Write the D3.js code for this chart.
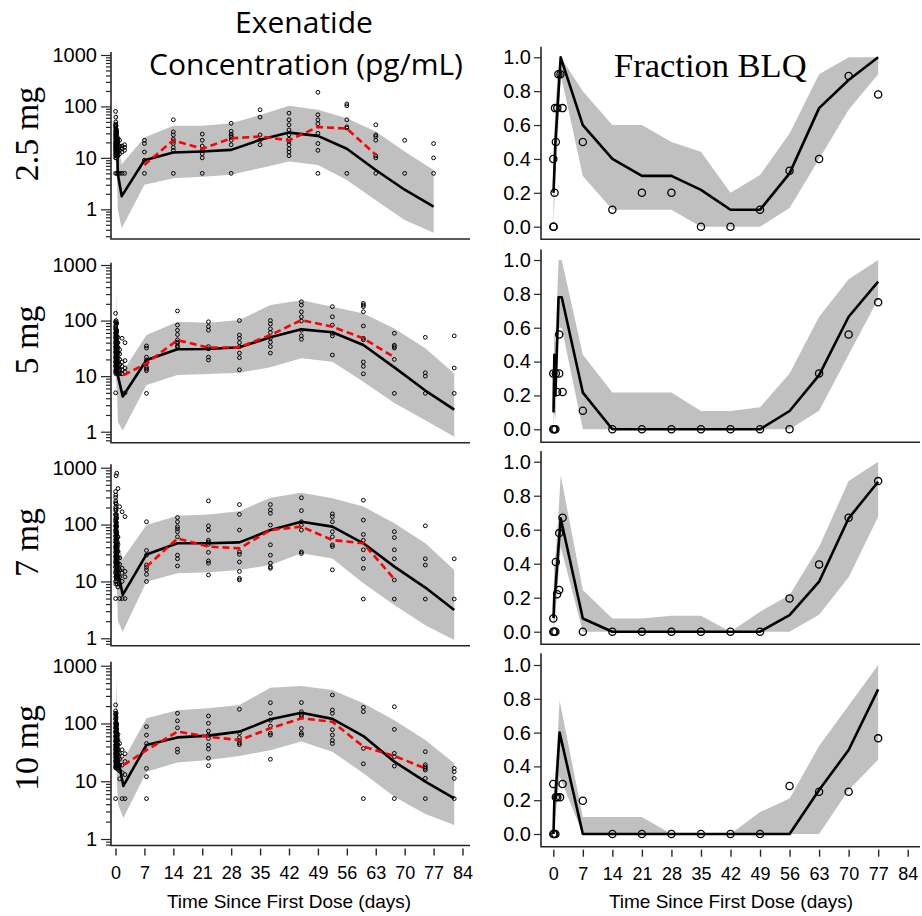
<!DOCTYPE html>
<html>
<head>
<meta charset="utf-8">
<script src="https://cdn.jsdelivr.net/npm/d3@7"></script>
<style>
  body { margin: 0; background: #fff; }
  text { font-family: "Liberation Sans", Arial, sans-serif; }
</style>
</head>
<body>
<div id="vis"></div>
<script>
// ############
// data
// ############
const DOSES = ["2.5 mg", "5 mg", "7 mg", "10 mg"];
const X_TICKS = [0, 7, 14, 21, 28, 35, 42, 49, 56, 63, 70, 77, 84];
const CONC_TICKS = [1, 10, 100, 1000];
const BLQ_TICKS = [0, 0.2, 0.4, 0.6, 0.8, 1.0];

// sampling days (2.5 mg cohort was weekly, others ~7.5 d apart)
const DAYS_A = [7, 14, 21, 28, 35, 42, 49, 56, 63, 70, 77];
const DAYS_B = [7.5, 15, 22.5, 30, 37.5, 45, 52.5, 60, 67.5, 75, 82];

// simulated median / 90% PI for concentration
const CONC_PRED_TIME = [
  [0.1, 0.25, 0.4, 0.55, 1.5].concat(DAYS_A),
  [0.1, 0.25, 0.4, 0.6, 1.75].concat(DAYS_B),
  [0.1, 0.25, 0.4, 0.6, 1.75].concat(DAYS_B),
  [0.1, 0.25, 0.4, 0.6, 1.9].concat(DAYS_B)
];
const CONC_PRED_MED = [
  [10, 40, 22, 5, 1.8, 9, 12.7, 13.3, 14.3, 22.4, 31, 26.8, 15, 5.8, 2.4, 1.13],
  [12, 60, 35, 10, 4.3, 19.5, 30.4, 30.7, 33, 50, 69.5, 61.5, 36.4, 14.4, 5.5, 2.5],
  [20, 120, 50, 15, 5.8, 29.8, 46.8, 46.8, 48.7, 80, 112, 92, 46.8, 18.2, 7.8, 3.15],
  [25, 150, 70, 25, 8.3, 42.4, 57.4, 61.5, 72.3, 118, 153, 120, 60.6, 21.8, 9.85, 5.05]
];
const CONC_PRED_HI = [
  [30, 150, 40, 20, 7.5, 25, 42, 42, 47, 68, 103, 86, 59, 32.6, 13.3, 5.8],
  [40, 330, 80, 25, 12, 55, 95, 91, 102, 190, 233, 178, 134, 72, 31.6, 11.2],
  [80, 700, 120, 50, 25, 98, 143, 151, 172, 296, 362, 289, 207, 105, 46.8, 15.9],
  [100, 650, 150, 60, 23, 123, 170, 183, 208, 417, 444, 380, 223, 114, 51.5, 20.4]
];
const CONC_PRED_LO = [
  [3, 8, 3, 1, 0.43, 3.0, 4.0, 4.3, 4.7, 6.3, 8.5, 7.3, 3.7, 1.5, 0.62, 0.35],
  [3, 10, 4, 1.5, 1.05, 6.9, 10.5, 10.9, 11.5, 14.4, 20.9, 18.2, 7.9, 3.3, 1.6, 0.81],
  [4, 20, 5, 2, 1.3, 9.9, 13.9, 14.5, 15.9, 19.4, 31.2, 25.4, 9.3, 3.85, 1.7, 0.93],
  [5, 30, 8, 4, 2.3, 14.6, 21, 23.3, 27.4, 34.5, 48.5, 32.5, 13.7, 5.4, 2.7, 1.75]
];

// observed median (red dashed)
const CONC_OBS_MED_TIME = [
  [7, 14, 21, 28, 35, 42, 49, 56, 63],
  [2, 7.5, 15, 22.5, 30, 37.5, 45, 52.5, 60, 67.5],
  [7.5, 15, 22.5, 30, 37.5, 45, 52.5, 60, 67.5],
  [2, 7.5, 15, 22.5, 30, 37.5, 45, 52.5, 60, 67.5, 75]
];
const CONC_OBS_MED = [
  [7.3, 22, 15, 24, 26, 22, 40, 37, 11.5],
  [10.4, 17, 44.6, 32.5, 33, 55, 102, 77.6, 47.8, 21.8],
  [18.2, 57, 40.9, 38.2, 80, 92, 53.4, 46.8, 11],
  [19.1, 34.5, 72.3, 59, 51.5, 82.5, 123, 107, 39.7, 27.4, 16.7]
];

// observed concentrations, first two days [day, values]
const CONC_EARLY = [
  [[0.02, [5, 10, 12, 14, 16, 18, 20, 24, 28, 33, 40, 45, 80]],
   [0.08, [11, 12.5, 14, 15.5, 17, 19, 21, 23, 26, 29, 32, 37, 43, 50, 62]],
   [0.15, [11, 13, 15, 17, 19, 22, 26, 30, 36, 42]],
   [0.22, [10, 12, 13.5, 15, 16.5, 18, 20, 22, 25, 28, 31, 35]],
   [0.3, [5, 12, 14, 16, 19, 23, 27, 32]],
   [0.45, [11, 12.5, 14, 15.5, 17, 19, 21, 24]],
   [0.6, [5, 11, 13, 15, 18, 21, 24]],
   [1.0, [5, 12, 14, 17, 22]],
   [1.6, [5, 13, 15, 17]],
   [2.2, [5, 14, 16, 18]]],
  [[0.02, [5, 12, 15, 18, 22, 27, 33, 40, 50, 60, 75, 95, 135]],
   [0.08, [11, 13, 15, 17, 19, 21, 24, 27, 30, 34, 38, 43, 48, 54, 61, 70, 80, 92]],
   [0.15, [13, 16, 20, 25, 30, 36, 45, 55, 68, 85, 100]],
   [0.22, [12, 14, 16, 18, 20, 23, 26, 29, 33, 37, 42, 47, 53, 60, 68]],
   [0.3, [12, 15, 18, 22, 28, 34, 42, 52, 65, 90]],
   [0.45, [11, 13, 15, 17, 19, 22, 25, 29, 34, 40]],
   [0.6, [11, 14, 17, 21, 26, 32, 40, 50]],
   [1.0, [11, 13, 16, 20, 25, 30]],
   [1.6, [11, 13, 15, 18, 48]],
   [2.3, [5, 12, 14, 19, 40]]],
  [[0.02, [5, 10, 14, 18, 22, 27, 33, 40, 50, 62, 78, 95, 120, 150, 190, 240, 300, 380]],
   [0.08, [9, 12, 15, 18, 21, 24, 28, 32, 37, 42, 48, 55, 63, 72, 82, 95, 110, 128, 150, 175, 205, 260, 330]],
   [0.15, [12, 16, 20, 25, 30, 37, 45, 55, 70, 88, 110, 140, 180, 230, 720]],
   [0.22, [11, 13, 16, 19, 22, 26, 30, 35, 41, 48, 56, 66, 78, 92, 108, 128, 150]],
   [0.3, [10, 14, 18, 22, 28, 35, 44, 56, 72, 95, 130, 800]],
   [0.45, [9, 12, 15, 18, 22, 27, 33, 40, 50, 62]],
   [0.6, [8, 12, 16, 20, 26, 34, 45, 60, 430]],
   [1.0, [5, 9, 12, 16, 20, 26, 206]],
   [1.6, [5, 10, 14, 17, 168]],
   [2.3, [5, 12, 15, 138]]],
  [[0.02, [5, 18, 22, 26, 30, 36, 42, 50, 60, 72, 85, 100, 120, 145, 165, 210]],
   [0.08, [17, 19, 21, 23, 26, 29, 32, 35, 39, 43, 48, 53, 59, 66, 74, 83, 93, 105, 118, 133, 150]],
   [0.15, [17, 20, 24, 28, 33, 40, 48, 58, 70, 84, 100, 125, 150]],
   [0.22, [18, 20, 22, 25, 28, 31, 35, 39, 44, 50, 56, 63, 71, 80, 90]],
   [0.3, [18, 21, 25, 30, 36, 44, 54, 66, 80, 98]],
   [0.45, [17, 19, 22, 25, 29, 33, 38, 44, 51, 59]],
   [0.6, [16, 20, 24, 29, 35, 43, 52, 65]],
   [1.0, [11, 15, 19, 24, 30, 45]],
   [1.6, [5, 14, 19, 27, 35]],
   [2.3, [5, 13, 22, 30]]]
];

// observed concentrations at the weekly visits (aligned with DAYS_A / DAYS_B)
const CONC_OBS = [
  [[22, 19, 13, 9, 5], [55, 32, 28, 23, 21, 19, 16, 14, 5], [29, 22, 17, 14, 12, 10, 5],
   [47, 33, 29, 27, 25, 22, 18, 5], [86, 62, 28, 22, 18], [74, 55, 44, 35, 28, 23, 21, 18, 15, 13, 11],
   [188, 69, 55, 46, 30, 19, 14, 5], [112, 103, 55, 40, 38, 5], [44, 28, 26, 22, 11, 10, 5],
   [22, 5], [19, 10, 5]],
  [[35, 32, 22, 19.5, 17, 14.4, 13.4, 12.5, 4.9], [149, 83, 67, 56, 45, 41, 39, 35, 33],
   [95, 78, 67, 34, 31, 22, 19.5], [100, 55, 48, 40, 34, 26, 21.5, 13],
   [100, 87, 71, 61, 48, 41, 34, 26], [218, 190, 144, 117, 98, 67, 53, 46],
   [178, 117, 83, 59, 53, 24], [204, 190, 178, 144, 80, 48, 45, 18, 15, 11],
   [59, 36, 34, 32, 20, 4.9], [50, 11.5, 10, 4.9], [53, 14, 4.9]],
  [[112, 35, 29, 19.5, 17.7, 16, 13.3, 10], [133, 112, 92, 84, 75, 61, 29, 25, 18.7],
   [261, 95, 80, 53, 49, 45, 32.5, 23, 21, 13], [225, 151, 80, 33, 30, 22, 15, 11.3, 10.6],
   [225, 181, 158, 98, 44, 29, 21, 18, 17], [296, 176, 112, 98, 80, 33, 31],
   [154, 138, 112, 75, 61, 44, 41, 16], [268, 120, 67, 53, 36, 25, 17, 4.9],
   [75, 59, 36, 25, 10.6, 4.9], [95, 25, 19.4, 4.9], [25, 4.9]],
  [[88, 63, 45, 16.7, 12, 5], [150, 111, 84, 36, 32], [135, 101, 74, 63, 55, 42, 36, 25, 18.6],
   [176, 68, 57, 51, 46, 43], [229, 150, 114, 90, 68, 63, 24], [230, 160, 140, 131, 82, 68, 63],
   [311, 171, 150, 78, 63, 51, 45], [190, 160, 37, 20, 5], [195, 79, 30.5, 26.6, 18.3, 5],
   [32.5, 19.3, 17.8, 16.7, 15.6, 11.2, 5], [16.7, 14.6, 11.2, 5]]
];
const CONC_OBS_DAYS = [DAYS_A, DAYS_B, DAYS_B, DAYS_B];

// fraction BLQ: simulated median / PI
const BLQ_PRED_TIME = [
  [0.05, 0.5, 1.0, 1.75].concat(DAYS_A),
  [0.05, 0.25, 0.5, 1.25, 2.0].concat(DAYS_A),
  [0.05, 0.25, 0.5, 1.0, 1.75].concat(DAYS_A),
  [0.05, 0.25, 0.5, 1.5].concat(DAYS_A)
];
const BLQ_PRED_MED = [
  [0.2, 0.5, 0.7, 1.0, 0.6, 0.4, 0.3, 0.3, 0.217, 0.1, 0.1, 0.315, 0.7, 0.866, 1.0],
  [0.1, 0.44, 0.2, 0.78, 0.78, 0.217, 0, 0, 0, 0, 0, 0, 0.108, 0.32, 0.665, 0.872],
  [0.08, 0.22, 0.25, 0.42, 0.667, 0.078, 0, 0, 0, 0, 0, 0, 0.098, 0.294, 0.667, 0.882],
  [0, 0.2, 0.22, 0.6, 0, 0, 0, 0, 0, 0, 0, 0, 0.26, 0.497, 0.856]
];
const BLQ_PRED_HI = [
  [0.4, 0.7, 0.9, 1.0, 0.8, 0.6, 0.6, 0.5, 0.443, 0.2, 0.305, 0.55, 0.9, 1.0, 1.0],
  [0.33, 0.6, 0.5, 1.0, 1.0, 0.44, 0.217, 0.217, 0.217, 0.108, 0.108, 0.13, 0.33, 0.665, 0.886, 1.0],
  [0.2, 0.4, 0.45, 0.6, 0.92, 0.245, 0.078, 0.078, 0.094, 0.094, 0, 0.118, 0.216, 0.5, 0.886, 1.0],
  [0.1, 0.3, 0.35, 0.79, 0.1, 0.1, 0.1, 0, 0, 0, 0.13, 0.21, 0.52, 0.76, 1.0]
];
const BLQ_PRED_LO = [
  [0, 0.3, 0.5, 0.9, 0.3, 0.1, 0.1, 0.1, 0, 0, 0, 0.11, 0.4, 0.69, 0.9],
  [0, 0.1, 0.05, 0.6, 0.6, 0, 0, 0, 0, 0, 0, 0, 0, 0.11, 0.44, 0.77],
  [0, 0.05, 0.1, 0.25, 0.5, 0, 0, 0, 0, 0, 0, 0, 0, 0.1, 0.32, 0.676],
  [0, 0.05, 0.1, 0.34, 0, 0, 0, 0, 0, 0, 0, 0, 0, 0.26, 0.44]
];

// observed fraction BLQ [day, fraction]
const BLQ_OBS = [
  [[0, 0], [0.1, 0], [0, 0.4], [0.3, 0.2], [0.6, 0.5], [0.4, 0.7], [0.95, 0.7], [1.2, 0.9],
   [1.7, 0.9], [2.2, 0.7], [7, 0.5], [14, 0.1], [21, 0.2], [28, 0.2], [35, 0], [42, 0],
   [49, 0.1], [56, 0.33], [63, 0.4], [70, 0.89], [77, 0.78]],
  [[0, 0], [0.2, 0], [0.5, 0], [0, 0.33], [0.6, 0.33], [1.4, 0.33], [0.9, 0.22], [2.2, 0.22],
   [1.4, 0.56], [7, 0.11], [14, 0], [21, 0], [28, 0], [35, 0], [42, 0], [49, 0], [56, 0],
   [63, 0.33], [70, 0.56], [77, 0.75]],
  [[0, 0], [0.2, 0], [0.5, 0], [0, 0.078], [0.6, 0.41], [0.9, 0.22], [1.4, 0.245], [1.4, 0.58],
   [2.2, 0.67], [7, 0], [14, 0], [21, 0], [28, 0], [35, 0], [42, 0], [49, 0], [56, 0.196],
   [63, 0.396], [70, 0.67], [77, 0.886]],
  [[0, 0], [0.2, 0], [0.5, 0], [0, 0.296], [0.6, 0.217], [0.95, 0.217], [1.6, 0.217], [2.2, 0.296],
   [7, 0.197], [14, 0], [21, 0], [28, 0], [35, 0], [42, 0], [49, 0], [56, 0.284], [63, 0.25],
   [70, 0.25], [77, 0.566]]
];

// ############
// layout
// ############
const W = 922, H = 916;
const BAND_COLOR = "#c0c0c0";
const AXIS_COLOR = "#262626";

// per row: left panel frame + where 1000 and 1 sit, right panel frame + where 1.0 and 0.0 sit
const ROWS = [
  { top: 52, bottom: 239, y1000: 55, y1: 209.3, rTop: 46.7, rBottom: 239.3, r1: 57.3, r0: 226.7, labelY: 134 },
  { top: 262.7, bottom: 442.7, y1000: 265, y1: 431.7, rTop: 249.5, rBottom: 442.3, r1: 260, r0: 429.3, labelY: 340 },
  { top: 464.3, bottom: 645.7, y1000: 467.7, y1: 638.3, rTop: 451, rBottom: 644.3, r1: 461.7, r0: 631.7, labelY: 542.5 },
  { top: 661.7, bottom: 845.5, y1000: 665.7, y1: 839, rTop: 653.3, rBottom: 846.7, r1: 665, r0: 834, labelY: 748 }
];
const L_AXIS_X = 111, L_END_X = 470;
const R_AXIS_X = 541, R_END_X = 920;

const xL = d3.scaleLinear().domain([0, 84]).range([115.5, 462.5]);
const xR = d3.scaleLinear().domain([0, 84]).range([553.3, 907.7]);

const svg = d3.select("#vis").append("svg").attr("width", W).attr("height", H);

// titles
svg.append("text").attr("x", 304).attr("y", 33).attr("text-anchor", "middle")
  .style("font-family", "'Open Sans', sans-serif").attr("font-size", 30).text("Exenatide");
svg.append("text").attr("x", 306).attr("y", 75).attr("text-anchor", "middle")
  .style("font-family", "'Open Sans', sans-serif").attr("font-size", 30).text("Concentration (pg/mL)");
svg.append("text").attr("x", 614).attr("y", 76.5)
  .style("font-family", "'Liberation Serif', serif").attr("font-size", 34.5).text("Fraction BLQ");

ROWS.forEach((row, i) => {
  // ---------- concentration panel ----------
  const yL = d3.scaleLog().domain([1, 1000]).range([row.y1, row.y1000]);
  const gL = svg.append("g");

  const predL = CONC_PRED_TIME[i].map((t, j) => ({
    t, med: CONC_PRED_MED[i][j], lo: CONC_PRED_LO[i][j], hi: CONC_PRED_HI[i][j]
  }));

  gL.append("path").datum(predL)
    .attr("d", d3.area().x(d => xL(d.t)).y0(d => yL(d.lo)).y1(d => yL(d.hi)))
    .attr("fill", BAND_COLOR);

  const pts = [];
  CONC_EARLY[i].forEach(([t, vals]) => vals.forEach(v => pts.push([t, v])));
  CONC_OBS_DAYS[i].forEach((t, j) => CONC_OBS[i][j].forEach(v => pts.push([t, v])));

  gL.selectAll("circle").data(pts).join("circle")
    .attr("cx", d => xL(d[0])).attr("cy", d => yL(d[1])).attr("r", 1.9)
    .attr("fill", "none").attr("stroke", "#000").attr("stroke-width", 1);

  gL.append("path").datum(predL)
    .attr("d", d3.line().x(d => xL(d.t)).y(d => yL(d.med)))
    .attr("fill", "none").attr("stroke", "#000").attr("stroke-width", 2.6)
    .attr("stroke-linejoin", "round");

  gL.append("path").datum(CONC_OBS_MED_TIME[i].map((t, j) => [t, CONC_OBS_MED[i][j]]))
    .attr("d", d3.line().x(d => xL(d[0])).y(d => yL(d[1])))
    .attr("fill", "none").attr("stroke", "#f00").attr("stroke-width", 2.6)
    .attr("stroke-dasharray", "7,4");

  // axes lines
  gL.append("path")
    .attr("d", `M${L_AXIS_X},${row.top}V${row.bottom}H${L_END_X}`)
    .attr("fill", "none").attr("stroke", AXIS_COLOR).attr("stroke-width", 1.6);

  // minor log ticks inside the visible range
  const lo = yL.invert(row.bottom), hi = yL.invert(row.top);
  const minors = [];
  [0.1, 1, 10, 100, 1000].forEach(b => d3.range(2, 10).forEach(k => {
    const v = b * k;
    if (v > lo && v < hi) minors.push(v);
  }));
  const minorAxis = gL.append("g").attr("transform", `translate(${L_AXIS_X},0)`)
    .call(d3.axisLeft(yL).tickValues(minors).tickFormat("").tickSize(5));
  minorAxis.select(".domain").remove();

  const majorAxis = gL.append("g").attr("transform", `translate(${L_AXIS_X},0)`)
    .call(d3.axisLeft(yL).tickValues(CONC_TICKS).tickFormat(d3.format("d")).tickSize(10).tickPadding(4));
  majorAxis.select(".domain").remove();
  majorAxis.selectAll("text").attr("font-size", 20).style("font-family", "'Liberation Sans', Arial, sans-serif");
  gL.selectAll(".tick line").attr("stroke", AXIS_COLOR).attr("stroke-width", 1.2);

  // row label
  svg.append("text")
    .attr("transform", `translate(37.5,${row.labelY}) rotate(-90)`)
    .attr("text-anchor", "middle")
    .style("font-family", "'Liberation Serif', serif").attr("font-size", 34)
    .text(DOSES[i]);

  // ---------- BLQ panel ----------
  const yR = d3.scaleLinear().domain([0, 1]).range([row.r0, row.r1]);
  const gR = svg.append("g");

  const predR = BLQ_PRED_TIME[i].map((t, j) => ({
    t, med: BLQ_PRED_MED[i][j], lo: BLQ_PRED_LO[i][j], hi: BLQ_PRED_HI[i][j]
  }));

  gR.append("path").datum(predR)
    .attr("d", d3.area().x(d => xR(d.t)).y0(d => yR(d.lo)).y1(d => yR(d.hi)))
    .attr("fill", BAND_COLOR);

  gR.append("path").datum(predR)
    .attr("d", d3.line().x(d => xR(d.t)).y(d => yR(d.med)))
    .attr("fill", "none").attr("stroke", "#000").attr("stroke-width", 2.6)
    .attr("stroke-linejoin", "round");

  gR.selectAll("circle").data(BLQ_OBS[i]).join("circle")
    .attr("cx", d => xR(d[0])).attr("cy", d => yR(d[1])).attr("r", 3.6)
    .attr("fill", "none").attr("stroke", "#000").attr("stroke-width", 1.3);

  gR.append("path")
    .attr("d", `M${R_AXIS_X},${row.rTop}V${row.rBottom}H${R_END_X}`)
    .attr("fill", "none").attr("stroke", AXIS_COLOR).attr("stroke-width", 1.6);

  const rAxis = gR.append("g").attr("transform", `translate(${R_AXIS_X},0)`)
    .call(d3.axisLeft(yR).tickValues(BLQ_TICKS).tickFormat(d3.format(".1f")).tickSize(7).tickPadding(3));
  rAxis.select(".domain").remove();
  rAxis.selectAll("text").attr("font-size", 20).style("font-family", "'Liberation Sans', Arial, sans-serif");
  rAxis.selectAll(".tick line").attr("stroke", AXIS_COLOR).attr("stroke-width", 1.2);

  // x axis ticks + labels only on the bottom row
  if (i === ROWS.length - 1) {
    [[xL, row.bottom], [xR, row.rBottom]].forEach(([x, yb]) => {
      const ax = svg.append("g").attr("transform", `translate(0,${yb + 3})`)
        .call(d3.axisBottom(x).tickValues(X_TICKS).tickSize(7).tickPadding(11));
      ax.select(".domain").remove();
      ax.selectAll(".tick line").attr("stroke", AXIS_COLOR).attr("stroke-width", 1.4);
      ax.selectAll("text").attr("font-size", 18).style("font-family", "'Liberation Sans', Arial, sans-serif");
    });
    svg.append("text").attr("x", 289).attr("y", 908).attr("text-anchor", "middle")
      .attr("font-size", 19).text("Time Since First Dose (days)");
    svg.append("text").attr("x", 731).attr("y", 908).attr("text-anchor", "middle")
      .attr("font-size", 19).text("Time Since First Dose (days)");
  }
});
</script>
</body>
</html>
